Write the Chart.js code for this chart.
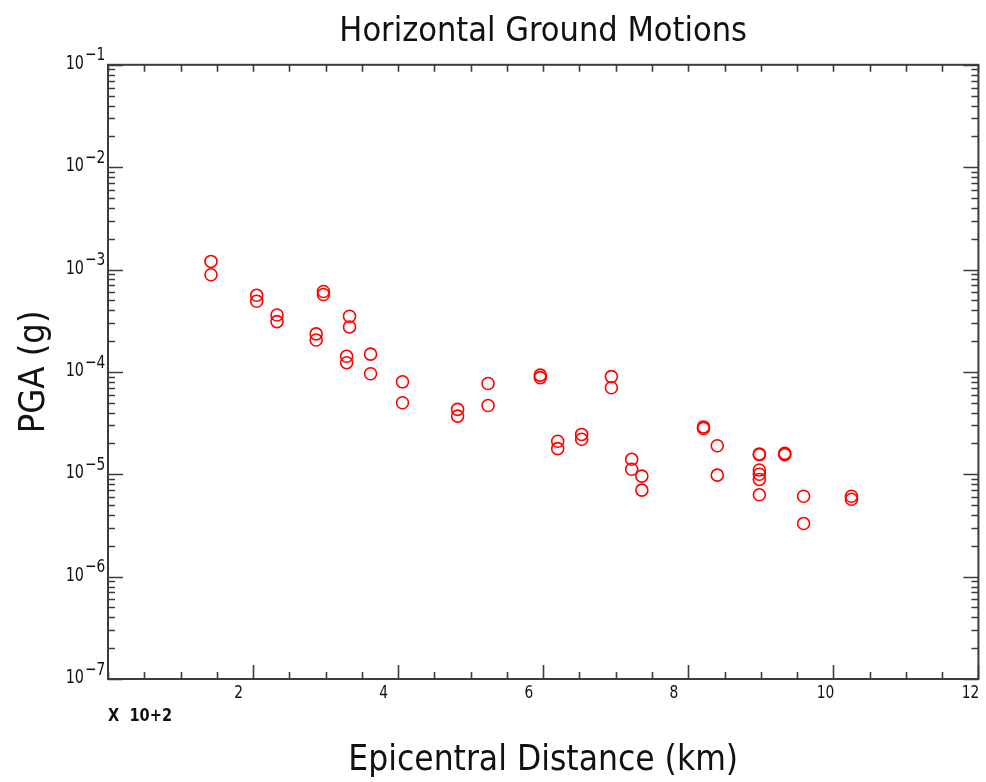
<!DOCTYPE html>
<html>
<head>
<meta charset="utf-8">
<title>Horizontal Ground Motions</title>
<script src="https://cdn.jsdelivr.net/npm/chart.js@4.4.1/dist/chart.umd.min.js"></script>
<style>
  html, body { margin: 0; padding: 0; background: #fff; }
  #wrap { width: 986px; height: 782px; position: relative; }
</style>
</head>
<body>
<div id="wrap"><canvas id="pgaChart"></canvas></div>
<script>
// Epicentral distance in units of 10^2 km
const distance = [
  1.42, 1.42, 2.05, 2.05, 2.33, 2.33, 2.87, 2.87, 2.97, 2.97,
  3.29, 3.29, 3.33, 3.33, 3.62, 3.62, 4.06, 4.06, 4.82, 4.82,
  5.24, 5.24, 5.96, 5.96, 6.20, 6.20, 6.53, 6.53, 6.94, 6.94,
  7.22, 7.22, 7.36, 7.36, 8.21, 8.21, 8.40, 8.40,
  8.98, 8.98, 8.98, 8.98, 8.98, 8.98,
  9.33, 9.33, 9.59, 9.59, 10.25, 10.25
];
// Peak ground acceleration (g)
const pga = [
  1.2e-3, 8.9e-4, 5.6e-4, 4.9e-4, 3.6e-4, 3.1e-4, 2.35e-4, 2.05e-4, 6.1e-4, 5.7e-4,
  1.42e-4, 1.23e-4, 3.5e-4, 2.75e-4, 1.49e-4, 9.6e-5, 8.0e-5, 5.0e-5, 4.3e-5, 3.7e-5,
  7.7e-5, 4.7e-5, 9.3e-5, 8.8e-5, 2.1e-5, 1.78e-5, 2.45e-5, 2.2e-5, 9.0e-5, 7.0e-5,
  1.4e-5, 1.12e-5, 9.6e-6, 7.0e-6, 2.9e-5, 2.8e-5, 1.9e-5, 9.8e-6,
  1.58e-5, 1.55e-5, 1.10e-5, 1.0e-5, 8.9e-6, 6.3e-6,
  1.6e-5, 1.55e-5, 6.1e-6, 3.3e-6, 6.1e-6, 5.7e-6
];

// Axis ticks
const xTicks = [0, 0.5, 1, 1.5, 2, 2.5, 3, 3.5, 4, 4.5, 5, 5.5, 6, 6.5, 7, 7.5, 8, 8.5, 9, 9.5, 10, 10.5, 11, 11.5, 12];
const xTickLabels = [2, 4, 6, 8, 10, 12];
const yDecades = [-7, -6, -5, -4, -3, -2, -1];
const yMantissas = [1, 2, 3, 4, 5, 6, 7, 8, 9];

const axisColor = '#3c3c3c';
const labelFont = "'DejaVu Sans Condensed', 'Liberation Sans Narrow', sans-serif";

const yTicks = [];
yDecades.forEach(d => {
  if (d === yDecades[yDecades.length - 1]) { yTicks.push(Math.pow(10, d)); return; }
  yMantissas.forEach(m => yTicks.push(m * Math.pow(10, d)));
});

const isDecade = v => Math.abs(Math.log10(v) - Math.round(Math.log10(v))) < 1e-9;

// narrow text helper (the original uses a very narrow stroke font)
function narrowText(ctx, s, x, y, sx) {
  ctx.save();
  ctx.translate(x, y);
  ctx.scale(sx, 1);
  ctx.fillText(s, 0, 0);
  ctx.restore();
}

// Inward ticks on all four sides, plus IDL-style labels
const framePlugin = {
  id: 'frame',
  afterDraw(chart) {
    const { ctx, chartArea: a, scales: { x, y } } = chart;
    ctx.save();
    ctx.strokeStyle = axisColor;
    ctx.lineWidth = 2;
    ctx.strokeRect(a.left, a.top, a.right - a.left, a.bottom - a.top);

    ctx.lineWidth = 1.6;
    ctx.beginPath();
    x.ticks.forEach(t => {
      const px = Math.round(x.getPixelForValue(t.value)) + 0.5;
      const big = xTickLabels.includes(t.value);
      ctx.moveTo(px, a.bottom); ctx.lineTo(px, a.bottom - (big ? 14 : 7));
      ctx.moveTo(px, a.top); ctx.lineTo(px, a.top + 7);
    });
    y.ticks.forEach(t => {
      const py = Math.round(y.getPixelForValue(t.value)) + 0.5;
      const len = isDecade(t.value) ? 15 : 7;
      ctx.moveTo(a.left, py); ctx.lineTo(a.left + len, py);
      ctx.moveTo(a.right, py); ctx.lineTo(a.right - len, py);
    });
    ctx.stroke();

    // x tick labels
    ctx.fillStyle = '#111';
    ctx.textBaseline = 'middle';
    ctx.textAlign = 'center';
    ctx.font = '18px ' + labelFont;
    xTickLabels.forEach(v => {
      const s = String(v);
      const w = ctx.measureText(s).width * 0.85;
      narrowText(ctx, s, x.getPixelForValue(v) - 21 + w * 0.75, a.bottom + 14, 0.85);
    });

    // y tick labels: 10 with exponent
    yDecades.forEach(d => {
      const py = y.getPixelForValue(Math.pow(10, d));
      ctx.font = '20px ' + labelFont;
      ctx.textAlign = 'right';
      narrowText(ctx, '10', 84, py - 1, 0.8);
      ctx.font = '18px ' + labelFont;
      ctx.textAlign = 'left';
      narrowText(ctx, '\u2212' + Math.abs(d), 85, py - 9, 0.85);
    });

    // scale factor note
    ctx.font = 'bold 18px ' + labelFont;
    ctx.textAlign = 'left';
    narrowText(ctx, 'X  10+2', a.left, a.bottom + 37, 0.9);
    ctx.restore();
  }
};

new Chart(document.getElementById('pgaChart'), {
  type: 'scatter',
  data: {
    datasets: [{
      label: 'PGA',
      data: distance.map((d, i) => ({ x: d, y: pga[i] })),
      pointStyle: 'circle',
      pointRadius: 6,
      pointHoverRadius: 6,
      borderWidth: 1.6,
      borderColor: '#ff0000',
      backgroundColor: 'rgba(0,0,0,0)'
    }]
  },
  options: {
    responsive: true,
    maintainAspectRatio: false,
    animation: false,
    layout: { padding: { left: 0, right: 5, top: 0, bottom: 0 } },
    plugins: {
      legend: { display: false },
      tooltip: { enabled: false },
      title: {
        display: true,
        fullSize: false,
        text: 'Horizontal Ground Motions',
        color: '#111',
        font: { family: labelFont, size: 34, weight: 'normal' },
        padding: { top: 12, bottom: 12 }
      }
    },
    scales: {
      x: {
        type: 'linear',
        min: 0,
        max: 12,
        grid: { display: false },
        border: { display: false },
        ticks: { display: false },
        afterBuildTicks: s => { s.ticks = xTicks.map(v => ({ value: v })); },
        afterFit: s => { s.height = 103; },
        title: {
          display: true,
          text: 'Epicentral Distance (km)',
          color: '#111',
          font: { family: labelFont, size: 35, weight: 'normal' },
          padding: { top: 0, bottom: 0 }
        }
      },
      y: {
        type: 'logarithmic',
        min: 1e-7,
        max: 1e-1,
        grid: { display: false },
        border: { display: false },
        ticks: { display: false },
        afterBuildTicks: s => { s.ticks = yTicks.map(v => ({ value: v })); },
        afterFit: s => { s.width = 108; },
        title: {
          display: true,
          text: 'PGA (g)',
          color: '#111',
          font: { family: labelFont, size: 36, weight: 'normal' },
          padding: { top: 13, bottom: 0 }
        }
      }
    }
  },
  plugins: [framePlugin]
});
</script>
</body>
</html>
